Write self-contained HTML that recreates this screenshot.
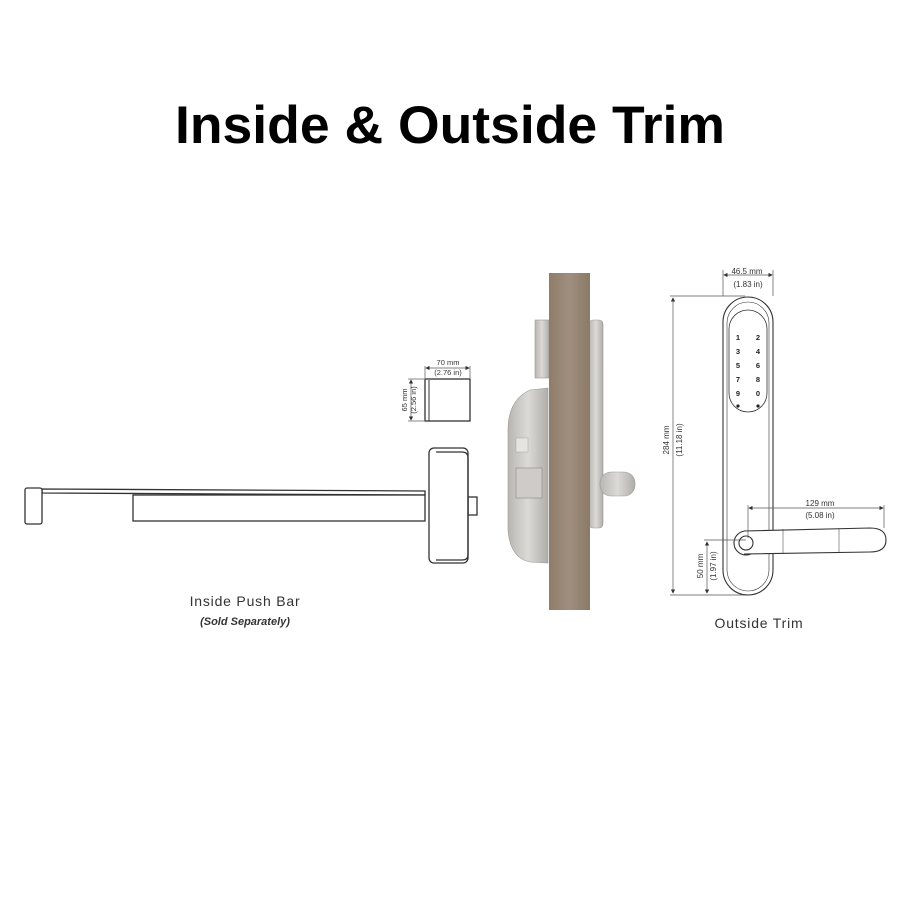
<!DOCTYPE html>
<html><head><style>
html,body{margin:0;padding:0;background:#fff;}
body{width:900px;height:900px;position:relative;overflow:hidden;font-family:"Liberation Sans",sans-serif;}
</style></head><body>
<svg width="900" height="900" viewBox="0 0 900 900" xmlns="http://www.w3.org/2000/svg" font-family="Liberation Sans, sans-serif">
<defs>
<linearGradient id="wood" x1="0" x2="1" y1="0" y2="0">
<stop offset="0" stop-color="#8f7c6b"/><stop offset="0.5" stop-color="#a08f7f"/><stop offset="1" stop-color="#8c7967"/>
</linearGradient>
<linearGradient id="steel" x1="0" x2="1" y1="0" y2="0">
<stop offset="0" stop-color="#b9b6b2"/><stop offset="0.5" stop-color="#dcdad7"/><stop offset="1" stop-color="#b0ada9"/>
</linearGradient>
<marker id="ar" markerWidth="6" markerHeight="6" refX="5" refY="3" orient="auto-start-reverse"><path d="M0,0 L6,3 L0,6z" fill="#333"/></marker>
</defs>
<text x="450" y="143" text-anchor="middle" font-size="53" font-weight="bold" fill="#000" textLength="550" lengthAdjust="spacingAndGlyphs">Inside &amp; Outside Trim</text>

<!-- push bar -->
<g fill="#fff" stroke="#333" stroke-width="1.3">
<path d="M42,489 L425,491 L425,495 L42,493z"/>
<rect x="133" y="495" width="292" height="26"/>
<rect x="25" y="488" width="17" height="36" rx="2"/>
<rect x="468" y="497" width="9" height="18"/>
<rect x="429" y="448" width="39" height="115" rx="5"/>
<path d="M436,452 L462,452 Q468,452 468,458 L468,555 Q468,560 462,560 L436,560" fill="none"/>
<rect x="425" y="379" width="45" height="42"/>
</g>
<line x1="429" y1="380" x2="429" y2="421" stroke="#333"/>
<g stroke="#555" stroke-width="0.7">
<line x1="425" y1="366" x2="425" y2="378"/><line x1="470" y1="366" x2="470" y2="378"/>
<line x1="426" y1="368" x2="469" y2="368" marker-start="url(#ar)" marker-end="url(#ar)"/>
<line x1="408" y1="379" x2="424" y2="379"/><line x1="408" y1="421" x2="424" y2="421"/>
<line x1="411" y1="380" x2="411" y2="420" marker-start="url(#ar)" marker-end="url(#ar)"/>
</g>
<text x="448" y="365" font-size="7.5" text-anchor="middle" fill="#333">70 mm</text>
<text x="448" y="375" font-size="7.5" text-anchor="middle" fill="#333">(2.76 in)</text>
<text transform="translate(407,400) rotate(-90)" font-size="7.5" text-anchor="middle" fill="#333">65 mm</text>
<text transform="translate(416,400) rotate(-90)" font-size="7.5" text-anchor="middle" fill="#333">(2.56 in)</text>
<text x="245" y="606" font-size="14" text-anchor="middle" fill="#333" letter-spacing="0.8">Inside Push Bar</text>
<text x="245" y="625" font-size="11" font-style="italic" font-weight="bold" text-anchor="middle" fill="#333">(Sold Separately)</text>

<!-- door & lock -->
<rect x="535" y="320" width="14" height="58" fill="url(#steel)" stroke="#999" stroke-width="0.6"/>
<path d="M548,388 L530,390 Q508,400 508,430 L508,530 Q510,558 530,562 L548,563z" fill="url(#steel)" stroke="#999" stroke-width="0.6"/>
<rect x="516" y="468" width="26" height="30" fill="#cfccc8" stroke="#888" stroke-width="0.6"/>
<rect x="516" y="438" width="12" height="14" fill="#e6e4e1" stroke="#999" stroke-width="0.4"/>
<rect x="589" y="320" width="14" height="208" rx="4" fill="url(#steel)" stroke="#999" stroke-width="0.6"/>
<rect x="600" y="472" width="35" height="24" rx="11" fill="url(#steel)" stroke="#999" stroke-width="0.6"/>
<rect x="549" y="273" width="41" height="337" fill="url(#wood)"/>

<!-- outside trim -->
<g fill="none" stroke="#333" stroke-width="1.1">
<rect x="723" y="297" width="50" height="298" rx="25"/>
<rect x="727" y="302" width="42" height="289" rx="21" stroke-width="0.6"/>
<rect x="729" y="310" width="38" height="102" rx="19" stroke-width="0.8"/>
<circle cx="746" cy="543" r="12"/>
<path d="M744,531 L870,528 Q886,528 886,540 Q886,552 870,552 L744,554" fill="#fff"/>
<circle cx="746" cy="543" r="7"/>
<line x1="783" y1="529" x2="783" y2="553" stroke-width="0.5"/>
<line x1="839" y1="529" x2="839" y2="553" stroke-width="0.5"/>
</g>
<g font-size="7.5" font-weight="bold" fill="#222" text-anchor="middle">
<text x="738" y="340">1</text><text x="758" y="340">2</text>
<text x="738" y="354">3</text><text x="758" y="354">4</text>
<text x="738" y="368">5</text><text x="758" y="368">6</text>
<text x="738" y="382">7</text><text x="758" y="382">8</text>
<text x="738" y="396">9</text><text x="758" y="396">0</text>
</g>
<circle cx="738" cy="406" r="1.6" fill="#222"/><circle cx="758" cy="406" r="1.6" fill="#222"/>
<g stroke="#555" stroke-width="0.7">
<line x1="723" y1="270" x2="723" y2="296"/><line x1="773" y1="270" x2="773" y2="296"/>
<line x1="724" y1="275" x2="772" y2="275" marker-start="url(#ar)" marker-end="url(#ar)"/>
<line x1="670" y1="296" x2="745" y2="296"/><line x1="670" y1="595" x2="745" y2="595"/>
<line x1="673" y1="298" x2="673" y2="593" marker-start="url(#ar)" marker-end="url(#ar)"/>
<line x1="748" y1="505" x2="748" y2="538"/><line x1="884" y1="505" x2="884" y2="528"/>
<line x1="749" y1="508" x2="883" y2="508" marker-start="url(#ar)" marker-end="url(#ar)"/>
<line x1="704" y1="540" x2="746" y2="540"/>
<line x1="707" y1="542" x2="707" y2="593" marker-start="url(#ar)" marker-end="url(#ar)"/>
</g>
<g font-size="8" fill="#333" text-anchor="middle">
<text x="747" y="274">46.5 mm</text><text x="748" y="287">(1.83 in)</text>
<text x="820" y="506">129 mm</text><text x="820" y="518">(5.08 in)</text>
<text transform="translate(669,440) rotate(-90)">284 mm</text>
<text transform="translate(682,440) rotate(-90)">(11.18 in)</text>
<text transform="translate(703,566) rotate(-90)">50 mm</text>
<text transform="translate(716,566) rotate(-90)">(1.97 in)</text>
</g>
<text x="759" y="628" font-size="14" text-anchor="middle" fill="#333" letter-spacing="0.8">Outside Trim</text>
</svg>
</body></html>
